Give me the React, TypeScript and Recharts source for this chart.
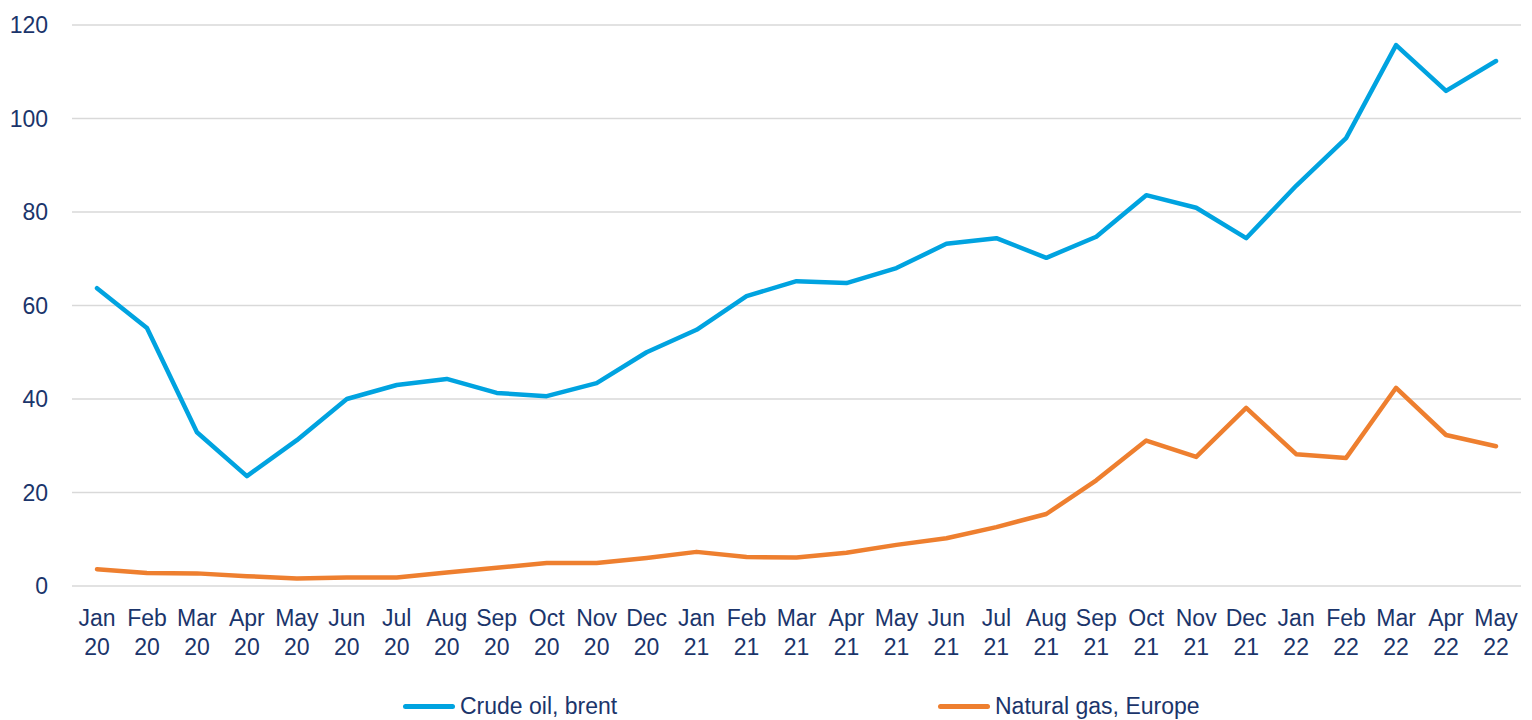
import { LineChart, Line, XAxis, YAxis, CartesianGrid, Legend } from "recharts";

const months = [
  "Jan 20", "Feb 20", "Mar 20", "Apr 20", "May 20", "Jun 20", "Jul 20", "Aug 20", "Sep 20", "Oct 20", "Nov 20", "Dec 20",
  "Jan 21", "Feb 21", "Mar 21", "Apr 21", "May 21", "Jun 21", "Jul 21", "Aug 21", "Sep 21", "Oct 21", "Nov 21", "Dec 21",
  "Jan 22", "Feb 22", "Mar 22", "Apr 22", "May 22",
];

const crudeOil = [
  63.7, 55.2, 32.9, 23.5, 31.2, 40.0, 43.0, 44.3, 41.3, 40.6, 43.4, 50.0,
  54.8, 62.0, 65.2, 64.8, 68.0, 73.2, 74.4, 70.2, 74.7, 83.6, 80.9, 74.4,
  85.6, 95.8, 115.7, 105.9, 112.3,
];

const naturalGas = [
  3.6, 2.8, 2.7, 2.1, 1.6, 1.8, 1.8, 2.9, 3.9, 4.9, 4.9, 6.0,
  7.3, 6.2, 6.1, 7.1, 8.8, 10.2, 12.6, 15.4, 22.6, 31.1, 27.6, 38.1,
  28.2, 27.4, 42.4, 32.3, 29.9,
];

const yTicks = [0, 20, 40, 60, 80, 100, 120];

const data = months.map((m, i) => ({ month: m, oil: crudeOil[i], gas: naturalGas[i] }));

const TEXT = "#1B356B";
const FONT = "'Liberation Sans', Arial, sans-serif";
const BLUE = "#00A3E0";
const ORANGE = "#EE7F2F";

const MonthTick = (props: any) => {
  const { x, y, payload } = props;
  const [mon, yr] = String(payload.value).split(" ");
  return (
    <text x={x} y={y} textAnchor="middle" fill={TEXT} fontSize={23} fontFamily={FONT}>
      <tspan x={x} dy={32}>{mon}</tspan>
      <tspan x={x} dy={29}>{yr}</tspan>
    </text>
  );
};

const legendItems = [
  { label: "Crude oil, brent", color: BLUE, x: 403 },
  { label: "Natural gas, Europe", color: ORANGE, x: 938 },
];

const LegendContent = () => (
  <div style={{ position: "relative", width: 1532, height: 30 }}>
    {legendItems.map((it) => (
      <div
        key={it.label}
        style={{ position: "absolute", left: it.x, top: 0, display: "flex", alignItems: "center", height: 30 }}
      >
        <div style={{ width: 52, height: 5, borderRadius: 3, background: it.color }} />
        <span style={{ marginLeft: 5, color: TEXT, fontSize: 23, fontFamily: FONT }}>{it.label}</span>
      </div>
    ))}
  </div>
);

export default function App() {
  return (
    <div style={{ position: "absolute", left: 0, top: 0, background: "#fff" }}>
      <LineChart width={1532} height={720} data={data} margin={{ top: 25, right: 11, left: 0, bottom: 0 }}>
        <CartesianGrid vertical={false} stroke="#D9D9D9" strokeWidth={1.5} />
        <XAxis
          dataKey="month"
          interval={0}
          axisLine={false}
          tickLine={false}
          height={134}
          padding={{ left: 25, right: 25 }}
          tick={<MonthTick />}
        />
        <YAxis
          domain={[0, 120]}
          ticks={yTicks}
          width={72}
          axisLine={false}
          tickLine={false}
          tickSize={0}
          tickMargin={24}
          tick={{ fill: TEXT, fontSize: 23, fontFamily: FONT }}
        />
        <Legend
          verticalAlign="middle"
          content={<LegendContent />}
          wrapperStyle={{ top: 691, left: 0, width: 1532 }}
        />
        <Line
          dataKey="oil"
          name="Crude oil, brent"
          stroke={BLUE}
          strokeWidth={4.5}
          strokeLinecap="round"
          strokeLinejoin="round"
          dot={false}
          activeDot={false}
          isAnimationActive={false}
        />
        <Line
          dataKey="gas"
          name="Natural gas, Europe"
          stroke={ORANGE}
          strokeWidth={4.5}
          strokeLinecap="round"
          strokeLinejoin="round"
          dot={false}
          activeDot={false}
          isAnimationActive={false}
        />
      </LineChart>
    </div>
  );
}
